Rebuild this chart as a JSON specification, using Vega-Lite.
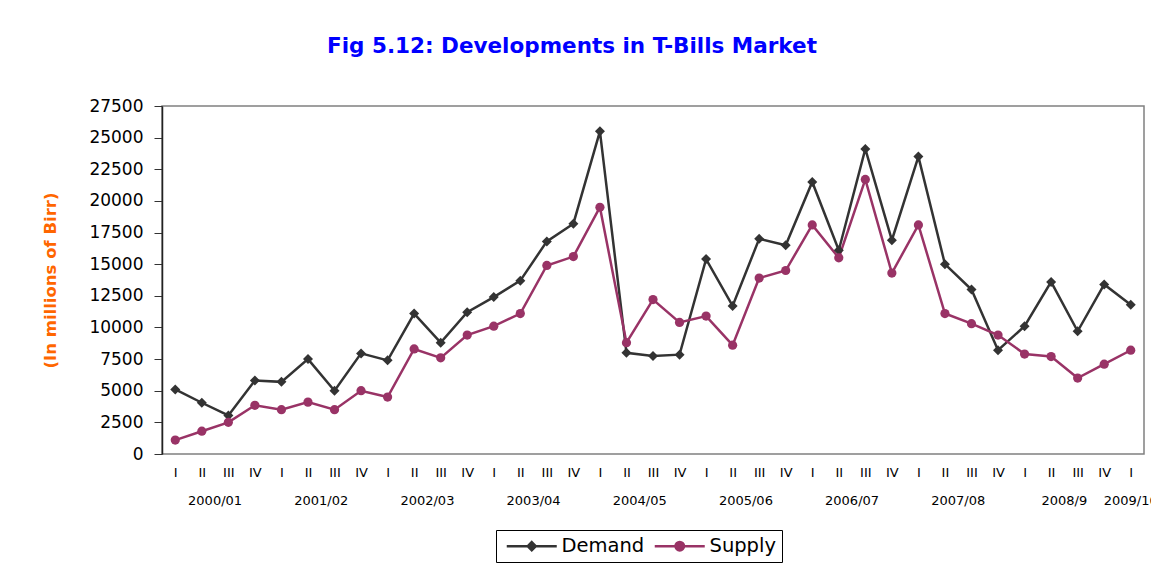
{
  "$schema": "https://vega.github.io/schema/vega-lite/v6.json",
  "width": 982,
  "height": 348,
  "autosize": "none",
  "padding": {"left": 162, "top": 106, "right": 7, "bottom": 121},
  "background": "white",
  "title": {
    "text": "Fig 5.12: Developments in T-Bills Market",
    "color": "#0000FF",
    "font": "DejaVu Sans",
    "fontSize": 21.5,
    "fontWeight": "bold",
    "anchor": "middle",
    "frame": "group",
    "dx": -81,
    "offset": 40
  },
  "config": {
    "view": {"stroke": "#808080", "strokeWidth": 1.5},
    "axis": {"grid": false, "labelOverlap": false, "labelFlush": false},
    "axisX": {
      "ticks": false,
      "domain": false,
      "labelFont": "DejaVu Sans",
      "labelFontSize": 13,
      "labelColor": "black",
      "labelPadding": 12
    },
    "axisY": {
      "titleColor": "#FF6600",
      "titleFont": "DejaVu Sans",
      "titleFontSize": 16.5,
      "titleFontWeight": "bold",
      "titlePadding": 30,
      "labelFont": "DejaVu Sans",
      "labelFontSize": 17,
      "labelColor": "black",
      "labelPadding": 11,
      "tickSize": 8,
      "tickColor": "#333333",
      "domainColor": "#222222",
      "domainWidth": 1.5
    }
  },
  "datasets": {
    "tb": [
      {"i": 1, "series": "Demand", "value": 5100}, {"i": 2, "series": "Demand", "value": 4050},
      {"i": 3, "series": "Demand", "value": 3050}, {"i": 4, "series": "Demand", "value": 5800},
      {"i": 5, "series": "Demand", "value": 5700}, {"i": 6, "series": "Demand", "value": 7500},
      {"i": 7, "series": "Demand", "value": 5000}, {"i": 8, "series": "Demand", "value": 7950},
      {"i": 9, "series": "Demand", "value": 7400}, {"i": 10, "series": "Demand", "value": 11100},
      {"i": 11, "series": "Demand", "value": 8800}, {"i": 12, "series": "Demand", "value": 11200},
      {"i": 13, "series": "Demand", "value": 12400}, {"i": 14, "series": "Demand", "value": 13700},
      {"i": 15, "series": "Demand", "value": 16800}, {"i": 16, "series": "Demand", "value": 18200},
      {"i": 17, "series": "Demand", "value": 25500}, {"i": 18, "series": "Demand", "value": 8000},
      {"i": 19, "series": "Demand", "value": 7750}, {"i": 20, "series": "Demand", "value": 7850},
      {"i": 21, "series": "Demand", "value": 15400}, {"i": 22, "series": "Demand", "value": 11700},
      {"i": 23, "series": "Demand", "value": 17000}, {"i": 24, "series": "Demand", "value": 16500},
      {"i": 25, "series": "Demand", "value": 21500}, {"i": 26, "series": "Demand", "value": 16100},
      {"i": 27, "series": "Demand", "value": 24100}, {"i": 28, "series": "Demand", "value": 16900},
      {"i": 29, "series": "Demand", "value": 23500}, {"i": 30, "series": "Demand", "value": 15000},
      {"i": 31, "series": "Demand", "value": 13000}, {"i": 32, "series": "Demand", "value": 8200},
      {"i": 33, "series": "Demand", "value": 10100}, {"i": 34, "series": "Demand", "value": 13600},
      {"i": 35, "series": "Demand", "value": 9700}, {"i": 36, "series": "Demand", "value": 13400},
      {"i": 37, "series": "Demand", "value": 11800},
      {"i": 1, "series": "Supply", "value": 1100}, {"i": 2, "series": "Supply", "value": 1800},
      {"i": 3, "series": "Supply", "value": 2500}, {"i": 4, "series": "Supply", "value": 3850},
      {"i": 5, "series": "Supply", "value": 3500}, {"i": 6, "series": "Supply", "value": 4100},
      {"i": 7, "series": "Supply", "value": 3500}, {"i": 8, "series": "Supply", "value": 5000},
      {"i": 9, "series": "Supply", "value": 4500}, {"i": 10, "series": "Supply", "value": 8300},
      {"i": 11, "series": "Supply", "value": 7600}, {"i": 12, "series": "Supply", "value": 9400},
      {"i": 13, "series": "Supply", "value": 10100}, {"i": 14, "series": "Supply", "value": 11100},
      {"i": 15, "series": "Supply", "value": 14900}, {"i": 16, "series": "Supply", "value": 15600},
      {"i": 17, "series": "Supply", "value": 19500}, {"i": 18, "series": "Supply", "value": 8800},
      {"i": 19, "series": "Supply", "value": 12200}, {"i": 20, "series": "Supply", "value": 10400},
      {"i": 21, "series": "Supply", "value": 10900}, {"i": 22, "series": "Supply", "value": 8600},
      {"i": 23, "series": "Supply", "value": 13900}, {"i": 24, "series": "Supply", "value": 14500},
      {"i": 25, "series": "Supply", "value": 18100}, {"i": 26, "series": "Supply", "value": 15500},
      {"i": 27, "series": "Supply", "value": 21700}, {"i": 28, "series": "Supply", "value": 14300},
      {"i": 29, "series": "Supply", "value": 18100}, {"i": 30, "series": "Supply", "value": 11100},
      {"i": 31, "series": "Supply", "value": 10300}, {"i": 32, "series": "Supply", "value": 9400},
      {"i": 33, "series": "Supply", "value": 7900}, {"i": 34, "series": "Supply", "value": 7700},
      {"i": 35, "series": "Supply", "value": 6000}, {"i": 36, "series": "Supply", "value": 7100},
      {"i": 37, "series": "Supply", "value": 8200}
    ],
    "years": [
      {"center": 2.5, "year": "2000/01"}, {"center": 6.5, "year": "2001/02"},
      {"center": 10.5, "year": "2002/03"}, {"center": 14.5, "year": "2003/04"},
      {"center": 18.5, "year": "2004/05"}, {"center": 22.5, "year": "2005/06"},
      {"center": 26.5, "year": "2006/07"}, {"center": 30.5, "year": "2007/08"},
      {"center": 34.5, "year": "2008/9"}, {"center": 37, "year": "2009/10"}
    ]
  },
  "layer": [
    {
      "data": {"name": "tb"},
      "mark": {"type": "line", "strokeWidth": 2.5},
      "encoding": {
        "x": {
          "field": "i", "type": "quantitative",
          "scale": {"domain": [0.5, 37.5], "nice": false, "zero": false},
          "axis": {"title": null, "values": [1,2,3,4,5,6,7,8,9,10,11,12,13,14,15,16,17,18,19,20,21,22,23,24,25,26,27,28,29,30,31,32,33,34,35,36,37], "labelExpr": "['IV','I','II','III'][datum.value % 4]"}
        },
        "y": {
          "field": "value", "type": "quantitative",
          "scale": {"domain": [0, 27500], "nice": false},
          "axis": {"title": "(In millions of Birr)", "values": [0,2500,5000,7500,10000,12500,15000,17500,20000,22500,25000,27500], "format": "d"}
        },
        "color": {
          "field": "series", "type": "nominal",
          "scale": {"domain": ["Demand", "Supply"], "range": ["#333333", "#993366"]},
          "legend": {
            "title": null,
            "orient": "none",
            "legendX": 334,
            "legendY": 424,
            "direction": "horizontal",
            "strokeColor": "black",
            "padding": 6,
            "labelFont": "DejaVu Sans",
            "labelFontSize": 19.5,
            "labelColor": "black",
            "symbolSize": 100,
            "symbolOffset": 20,
            "labelOffset": 20,
            "columnPadding": 4,
            "encode": {
              "symbols": {
                "update": {
                  "shape": {"signal": "datum.value === 'Demand' ? 'M-5,0H5M0,-0.8L0.8,0L0,0.8L-0.8,0Z' : 'M-5,0H5M0.85,0A0.85,0.85,0,1,1,-0.85,0A0.85,0.85,0,1,1,0.85,0Z'"},
                  "fill": {"signal": "datum.value === 'Demand' ? '#333333' : '#993366'"},
                  "stroke": {"signal": "datum.value === 'Demand' ? '#333333' : '#993366'"},
                  "strokeWidth": {"value": 2.5},
                  "opacity": {"value": 1}
                }
              }
            }
          }
        }
      }
    },
    {
      "data": {"name": "tb"},
      "transform": [{"filter": "datum.series === 'Demand'"}],
      "mark": {"type": "point", "filled": true, "opacity": 1, "size": 100, "shape": "diamond", "color": "#333333"},
      "encoding": {
        "x": {"field": "i", "type": "quantitative",
          "axis": {"title": null, "values": [1,2,3,4,5,6,7,8,9,10,11,12,13,14,15,16,17,18,19,20,21,22,23,24,25,26,27,28,29,30,31,32,33,34,35,36,37], "labelExpr": "['IV','I','II','III'][datum.value % 4]"}},
        "y": {"field": "value", "type": "quantitative",
          "axis": {"title": "(In millions of Birr)", "values": [0,2500,5000,7500,10000,12500,15000,17500,20000,22500,25000,27500], "format": "d"}}
      }
    },
    {
      "data": {"name": "tb"},
      "transform": [{"filter": "datum.series === 'Supply'"}],
      "mark": {"type": "point", "filled": true, "opacity": 1, "size": 85, "shape": "circle", "color": "#993366"},
      "encoding": {
        "x": {"field": "i", "type": "quantitative",
          "axis": {"title": null, "values": [1,2,3,4,5,6,7,8,9,10,11,12,13,14,15,16,17,18,19,20,21,22,23,24,25,26,27,28,29,30,31,32,33,34,35,36,37], "labelExpr": "['IV','I','II','III'][datum.value % 4]"}},
        "y": {"field": "value", "type": "quantitative",
          "axis": {"title": "(In millions of Birr)", "values": [0,2500,5000,7500,10000,12500,15000,17500,20000,22500,25000,27500], "format": "d"}}
      }
    },
    {
      "data": {"name": "years"},
      "mark": {"type": "text", "font": "DejaVu Sans", "fontSize": 13, "color": "black", "baseline": "middle", "align": "center"},
      "encoding": {
        "x": {"field": "center", "type": "quantitative",
          "axis": {"title": null, "values": [1,2,3,4,5,6,7,8,9,10,11,12,13,14,15,16,17,18,19,20,21,22,23,24,25,26,27,28,29,30,31,32,33,34,35,36,37], "labelExpr": "['IV','I','II','III'][datum.value % 4]"}},
        "y": {"datum": -3714,
          "axis": {"title": "(In millions of Birr)", "values": [0,2500,5000,7500,10000,12500,15000,17500,20000,22500,25000,27500], "format": "d"}},
        "text": {"field": "year"}
      }
    }
  ]
}
